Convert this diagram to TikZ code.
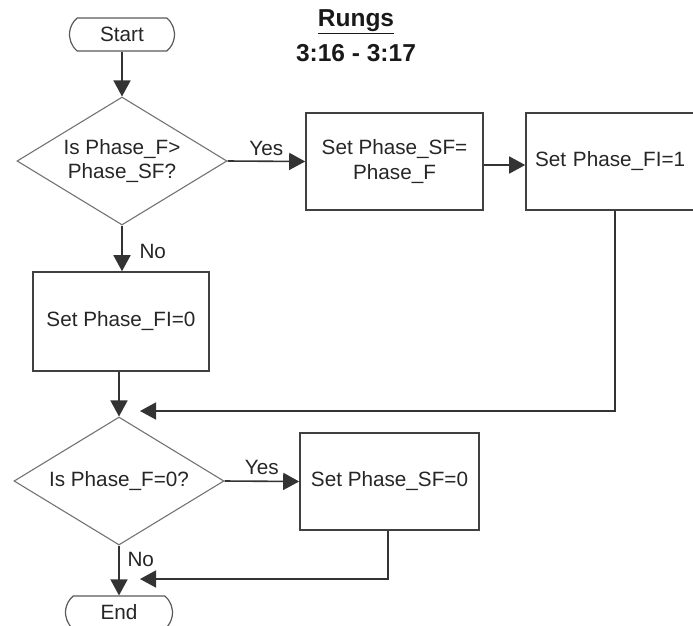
\documentclass[tikz,border=0pt]{standalone}
\usepackage{fontspec}
\setmainfont{Liberation Sans}
\usetikzlibrary{shapes.geometric,shapes.misc,arrows.meta}
\begin{document}
\begin{tikzpicture}[x=1pt,y=-1pt,
 txt/.style={font=\fontsize{20.7}{24.5}\selectfont, text=black!85},
 box/.style={txt, draw=black!75, line width=1.6pt, rectangle, inner sep=0pt, align=center},
 dec/.style={txt, draw=black!55, line width=1.1pt, diamond, aspect=1.64, inner sep=0pt, minimum width=210pt, minimum height=128pt, align=center},
 term/.style={txt, draw=black!65, line width=1.2pt, rounded rectangle, rounded rectangle arc length=100, inner sep=0pt, minimum width=105pt, minimum height=33pt},
 conn/.style={draw=black!80, line width=1.6pt},
 arr/.style={conn, -{Triangle[length=16pt,width=17pt]}},
 lbl/.style={txt},
 ttl/.style={font=\fontsize{24.5}{30}\selectfont\bfseries, text=black!90}]
\useasboundingbox (0,0) rectangle (693,625);

% title
\node[ttl] (title) at (356,22) {\underline{Rungs}};
\node[ttl] (rng) at (356,53) {3:16 - 3:17};

% nodes
\node[term] (start) at (122,34.5) {Start};
\node[dec] (d1) at (122,161) {Is Phase\_F>\\Phase\_SF?};
\node[box, minimum width=177pt, minimum height=97pt] (b2) at (394.5,161.5) {Set Phase\_SF=\\Phase\_F};
\node[box, minimum width=174pt, minimum height=97pt, text width=156pt, align=left] (b3) at (613,161.5) {Set Phase\_FI=1};
\node[box, minimum width=176pt, minimum height=99pt] (fi0) at (121,321.5) {Set Phase\_FI=0};
\node[dec] (d2) at (119,481) {Is Phase\_F=0?};
\node[box, minimum width=179pt, minimum height=97pt] (b4) at (389.5,481.5) {Set Phase\_SF=0};
\node[term, minimum width=107pt] (end) at (119,612.5) {End};

% helper coordinates
\coordinate (r1) at (0,165);
\coordinate (c3) at (615,411);
\coordinate (m1) at (140,411);
\coordinate (c4) at (388,579);
\coordinate (m2) at (140,579);

% connectors
\draw[arr] (start.south -| d1.north) -- (d1.north);
\draw[arr] (d1.east) -- node[lbl, above=1pt] (y1) {Yes} (b2.west);
\draw[arr] (b2.east |- r1) -- (b3.west |- r1);
\draw[arr] (d1.south) -- (d1.south |- fi0.north);
\node[lbl, anchor=west] (n1) at (136,251) {No};
\draw[arr] (fi0.south -| d2.north) -- (d2.north);
\draw[arr] (b3.south -| c3) -- (c3) -- (m1);
\draw[arr] (d2.east) -- node[lbl, above=2pt] (y2) {Yes} (b4.west);
\draw[arr] (b4.south -| c4) -- (c4) -- (m2);
\draw[arr] (d2.south) -- (end.north);
\node[lbl, anchor=west] (n2) at (124,559) {No};
\end{tikzpicture}
\end{document}
